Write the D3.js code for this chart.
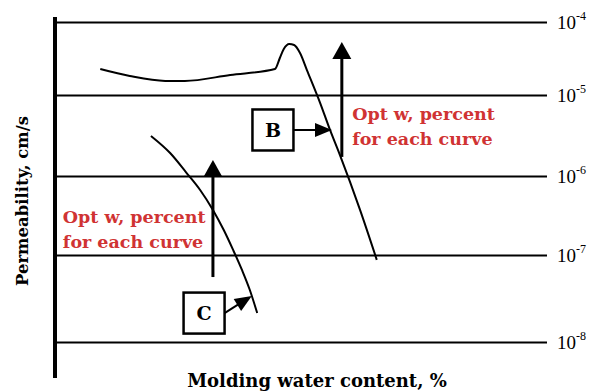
<!DOCTYPE html>
<html lang="en">
<head>
<meta charset="utf-8">
<title>Permeability vs molding water content</title>
<script src="https://d3js.org/d3.v7.min.js"></script>
<style>
  body { margin: 0; background: #fff; }
  svg { display: block; }
</style>
</head>
<body>
<script>
  // Curve B (upper) : molding water content (relative %) and permeability (cm/s)
  var waterB = [9.2, 15.2, 22.4, 26.4, 35.6, 44.7, 45.7, 46.5, 47.6, 48.6, 49.8, 51.2, 53.9, 55.9, 57.9, 62.0, 65.4];
  var permB  = [2.27e-5, 1.82e-5, 1.56e-5, 1.56e-5, 1.88e-5, 2.27e-5, 3.21e-5, 4.27e-5, 5.0e-5, 4.84e-5, 3.76e-5, 2.2e-5, 7.96e-6, 3.7e-6, 1.82e-6, 3.72e-7, 8.8e-8];

  // Curve C (lower)
  var waterC = [19.5, 23.4, 26.6, 29.5, 32.1, 34.3, 36.2, 38.0, 39.6, 41.1];
  var permC  = [3.12e-6, 1.92e-6, 1.12e-6, 6.65e-7, 3.72e-7, 2.07e-7, 1.16e-7, 6.73e-8, 3.96e-8, 2.15e-8];

  // decades shown on the right
  var decades = [1e-8, 1e-7, 1e-6, 1e-5, 1e-4];
  var decadeExp = ["-8", "-7", "-6", "-5", "-4"];

  // optimum water content arrows (B, C)
  var optWater = [58.3, 32.1];
  var optFrom  = [1.72e-6, 5.58e-8];
  var optTo    = [5.32e-5, 1.58e-6];

  // curve label boxes and their pointers
  var boxLabels = ["B", "C"];
  var boxWater  = [44.3, 30.3];
  var boxPerm   = [3.70e-6, 2.15e-8];
  var tipWater  = [56.3, 40.0];
  var tipPerm   = [3.70e-6, 3.38e-8];

  // red notes
  var noteLines = ["Opt w, percent", "for each curve"];
  var noteWater = [60.4, 1.6];
  var notePerm  = [4.91e-6, 2.54e-7];

  var width = 596;
  var height = 391;

  var svg = d3.select("body")
      .append("svg")
      .attr("width", width)
      .attr("height", height);

  var x = d3.scaleLinear().domain([0, 100]).range([55, 547]);
  // the scanned decades are not evenly spaced, so a piecewise log scale
  var y = d3.scaleLog().domain(decades).range([342, 255, 176, 95, 22]);

  var serif = "'DejaVu Serif', 'Liberation Serif', serif";

  // horizontal decade lines
  var grid = svg.append("g")
      .attr("transform", "translate(" + x.range()[1] + ",0)")
      .call(d3.axisLeft(y).tickValues(decades).tickSize(x.range()[1] - x.range()[0]).tickFormat(""));
  grid.select(".domain").remove();
  grid.selectAll("line").attr("stroke", "#000").attr("stroke-width", 2);

  // tick labels 10^n
  var lab = svg.append("g").selectAll("text")
      .data(decades)
      .join("text")
      .attr("x", x.range()[1] + 10)
      .attr("y", function(d) { return y(d) + 7; })
      .attr("font-family", "'Liberation Serif', serif")
      .attr("font-size", 19);
  lab.append("tspan").text("10");
  lab.append("tspan")
      .attr("dy", -9)
      .attr("font-size", 12)
      .text(function(d, i) { return decadeExp[i]; });

  // left axis
  svg.append("line")
      .attr("x1", x.range()[0]).attr("x2", x.range()[0])
      .attr("y1", 17).attr("y2", 378)
      .attr("stroke", "#000").attr("stroke-width", 4);

  // curves
  var line = d3.line()
      .x(function(d) { return x(d[0]); })
      .y(function(d) { return y(d[1]); })
      .curve(d3.curveMonotoneX);

  svg.append("path")
      .attr("d", line(d3.zip(waterB, permB)))
      .attr("fill", "none").attr("stroke", "#000").attr("stroke-width", 2);
  svg.append("path")
      .attr("d", line(d3.zip(waterC, permC)))
      .attr("fill", "none").attr("stroke", "#000").attr("stroke-width", 2);

  function arrow(x0, y0, x1, y1, len, w, sw) {
    var dx = x1 - x0, dy = y1 - y0;
    var L = Math.sqrt(dx * dx + dy * dy);
    var ux = dx / L, uy = dy / L;
    var bx = x1 - ux * len, by = y1 - uy * len;
    svg.append("line")
        .attr("x1", x0).attr("y1", y0)
        .attr("x2", bx + ux * 2).attr("y2", by + uy * 2)
        .attr("stroke", "#000").attr("stroke-width", sw);
    svg.append("path")
        .attr("d", "M" + x1 + "," + y1 +
          "L" + (bx - uy * w / 2) + "," + (by + ux * w / 2) +
          "L" + (bx + uy * w / 2) + "," + (by - ux * w / 2) + "Z")
        .attr("fill", "#000");
  }

  // opt w arrows
  optWater.forEach(function(w, i) {
    arrow(x(w), y(optFrom[i]), x(w), y(optTo[i]), 17, 19, 3);
  });

  // boxes and pointers
  var boxSize = 41;
  boxLabels.forEach(function(t, i) {
    var cx = x(boxWater[i]), cy = y(boxPerm[i]);
    arrow(cx + boxSize / 2, cy, x(tipWater[i]), y(tipPerm[i]), 17, 14, 2);
    svg.append("rect")
        .attr("x", cx - boxSize / 2).attr("y", cy - boxSize / 2)
        .attr("width", boxSize).attr("height", boxSize)
        .attr("fill", "#fff").attr("stroke", "#000").attr("stroke-width", 2.5);
    svg.append("text")
        .attr("x", cx).attr("y", cy + 7)
        .attr("text-anchor", "middle")
        .attr("font-family", serif).attr("font-weight", "bold").attr("font-size", 19)
        .text(t);
  });

  // red notes
  noteWater.forEach(function(w, i) {
    var t = svg.append("text")
        .attr("x", x(w)).attr("y", y(notePerm[i]))
        .attr("fill", "#d03333")
        .attr("font-family", serif).attr("font-weight", "bold").attr("font-size", 17.5);
    noteLines.forEach(function(s, j) {
      t.append("tspan").attr("x", x(w)).attr("dy", j ? 25 : 0).text(s);
    });
  });

  // axis titles
  svg.append("text")
      .attr("transform", "translate(28,201) rotate(-90)")
      .attr("text-anchor", "middle")
      .attr("font-family", serif).attr("font-weight", "bold").attr("font-size", 16.5)
      .text("Permeability, cm/s");

  svg.append("text")
      .attr("x", 317).attr("y", 387)
      .attr("text-anchor", "middle")
      .attr("font-family", serif).attr("font-weight", "bold").attr("font-size", 18)
      .text("Molding water content, %");
</script>
</body>
</html>
